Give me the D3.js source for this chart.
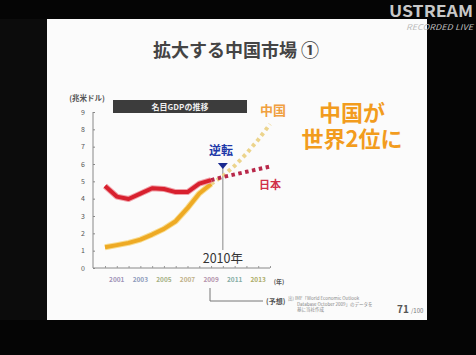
<!DOCTYPE html>
<html><head><meta charset="utf-8">
<script src="https://cdn.jsdelivr.net/npm/d3@7"></script>
<style>
html,body{margin:0;padding:0;background:#050505;}
svg{display:block;}
text{font-family:"Noto Sans CJK JP","Noto Sans",sans-serif;}
</style></head><body>
<svg id="c" width="476" height="355"></svg>
<script>
const years = [2000,2001,2002,2003,2004,2005,2006,2007,2008,2009];
const japan = [4.73,4.12,3.98,4.29,4.60,4.56,4.38,4.38,4.87,5.07];
const china = [1.20,1.32,1.45,1.64,1.93,2.26,2.70,3.45,4.30,4.85];
const fcYears = [2009,2010,2011,2012,2013,2014];
const japanFc = [5.07,5.25,5.40,5.55,5.70,5.85];
const chinaFc = [4.85,5.30,5.90,6.60,7.40,8.30];
const yTicks = [0,1,2,3,4,5,6,7,8,9];
const xLabels = [2001,2003,2005,2007,2009,2011,2013];
const xLabelColors = ["#a094b8","#8e9cbc","#a4b084","#c0b088","#b494ac","#84aca4","#acac68"];

const svg = d3.select("#c");
// slide
svg.append("rect").attr("x",0).attr("y",19).attr("width",47).attr("height",301).attr("fill","#0c0c0c");
svg.append("rect").attr("x",47).attr("y",19).attr("width",380).attr("height",301).attr("fill","#fbfbfb");

// logo
svg.append("text").attr("x",473).attr("y",17).attr("text-anchor","end")
  .attr("font-family","Liberation Sans Narrow, Liberation Sans, sans-serif").attr("font-weight","bold")
  .attr("font-size",16).attr("fill","#c8c8c8").attr("textLength",84).attr("lengthAdjust","spacingAndGlyphs").text("USTREAM");
svg.append("text").attr("x",473).attr("y",30).attr("text-anchor","end")
  .attr("font-family","Liberation Sans, sans-serif").attr("font-style","italic")
  .attr("font-size",8).attr("fill","#bbbbbb").attr("textLength",67).attr("lengthAdjust","spacingAndGlyphs").text("RECORDED LIVE");

// title
svg.append("text").attr("x",236).attr("y",57).attr("text-anchor","middle")
  .attr("font-size",18).attr("font-weight","bold").attr("fill","#444").text("拡大する中国市場 ①");

const x = d3.scaleLinear().domain([2000,2014]).range([105,270]);
const y = d3.scaleLinear().domain([0,9]).range([268,112]);

// axes
const yAxis = d3.axisLeft(y).tickValues(yTicks).tickSize(2).tickPadding(6).tickFormat(d3.format("d"));
const gy = svg.append("g").attr("transform","translate(93,0)").call(yAxis);
gy.select(".domain").attr("stroke","#888").attr("d","M0,112V268");
gy.selectAll(".tick line").attr("stroke","#888").attr("x2",2);
gy.selectAll(".tick text").attr("font-size",7).attr("fill","#555").attr("font-family","Liberation Sans, sans-serif");

const xAxis = d3.axisBottom(x).tickValues(d3.range(2000,2015)).tickSize(-2).tickFormat("");
const gx = svg.append("g").attr("transform","translate(0,268)").call(xAxis);
gx.select(".domain").attr("stroke","#888").attr("d","M93,0H270");
gx.selectAll(".tick line").attr("stroke","#999");
svg.selectAll(".xl").data(xLabels).join("text").attr("class","xl")
  .attr("x",d=>x(d)).attr("y",282).attr("text-anchor","middle")
  .attr("font-size",6.5).attr("font-family","Liberation Sans, sans-serif").attr("font-weight","bold")
  .attr("fill",(d,i)=>xLabelColors[i]).text(d=>d);
svg.append("text").attr("x",279).attr("y",284).attr("text-anchor","middle").attr("font-size",6).attr("font-weight","bold").attr("fill","#555").text("(年)");

svg.append("text").attr("x",87).attr("y",101).attr("text-anchor","middle").attr("font-size",7.5).attr("font-weight","bold").attr("fill","#555").text("(兆米ドル)");

// box
svg.append("rect").attr("x",113).attr("y",100).attr("width",134).attr("height",13).attr("fill","#3c3c3c");
svg.append("text").attr("x",180).attr("y",109.5).attr("text-anchor","middle").attr("font-size",8).attr("font-weight","bold").attr("fill","#eee").text("名目GDPの推移");

// vertical 2010 line
svg.append("line").attr("x1",x(2010)).attr("x2",x(2010)).attr("y1",168).attr("y2",250).attr("stroke","#888").attr("stroke-width",1);

const line = d3.line().x(d=>x(d[0])).y(d=>y(d[1]));
const jp = years.map((d,i)=>[d,japan[i]]);
const cn = years.map((d,i)=>[d,china[i]]);
const jpF = fcYears.map((d,i)=>[d,japanFc[i]]);
const cnF = fcYears.map((d,i)=>[d,chinaFc[i]]);

// forecast dotted
svg.append("path").attr("d",line(cnF)).attr("fill","none").attr("stroke","#ecd48c").attr("stroke-width",4).attr("stroke-dasharray","3.5,3.5");
svg.append("path").attr("d",line(jpF)).attr("fill","none").attr("stroke","#b8284a").attr("stroke-width",4).attr("stroke-dasharray","3.5,3.5");

// solid
svg.append("path").attr("d",line(cn)).attr("fill","none").attr("stroke","#f8dc90").attr("stroke-width",6).attr("stroke-linejoin","round");
svg.append("path").attr("d",line(cn)).attr("fill","none").attr("stroke","#eeaa24").attr("stroke-width",4).attr("stroke-linejoin","round");
svg.append("path").attr("d",line(jp)).attr("fill","none").attr("stroke","#f0a0a8").attr("stroke-width",6).attr("stroke-linejoin","round");
svg.append("path").attr("d",line(jp)).attr("fill","none").attr("stroke","#d8202e").attr("stroke-width",4).attr("stroke-linejoin","round");

// labels
svg.append("text").attr("x",273).attr("y",115).attr("text-anchor","middle").attr("font-size",13).attr("font-weight","bold").attr("fill","#f0a040").text("中国");
svg.append("text").attr("x",270).attr("y",189).attr("text-anchor","middle").attr("font-size",11).attr("font-weight","bold").attr("fill","#d03048").text("日本");
svg.append("text").attr("x",221).attr("y",155).attr("text-anchor","middle").attr("font-size",12).attr("font-weight","bold").attr("fill","#2038a8").text("逆転");
svg.append("path").attr("d",`M${x(2010)-5},163L${x(2010)+5},163L${x(2010)},169Z`).attr("fill","#1a2a90");
svg.append("text").attr("x",x(2010)).attr("y",263).attr("text-anchor","middle").attr("font-size",12.5).attr("fill","#333").text("2010年");

svg.append("text").attr("x",352).attr("y",121).attr("text-anchor","middle").attr("font-size",22).attr("font-weight","bold").attr("fill","#f29c1e").text("中国が");
svg.append("text").attr("x",352).attr("y",147).attr("text-anchor","middle").attr("font-size",22).attr("font-weight","bold").attr("fill","#f29c1e").text("世界2位に");

// bottom bracket
svg.append("path").attr("d","M210,288V301H263").attr("fill","none").attr("stroke","#777").attr("stroke-width",1);
svg.append("text").attr("x",266).attr("y",303.5).attr("font-size",7).attr("font-weight","bold").attr("fill","#555").text("(予想)");
svg.append("text").attr("x",288).attr("y",300).attr("font-size",4.5).attr("fill","#888").text("出) IMF「World Economic Outlook");
svg.append("text").attr("x",297).attr("y",305.5).attr("font-size",4.5).attr("fill","#888").text("Database October 2009」のデータを");
svg.append("text").attr("x",297).attr("y",311).attr("font-size",4.5).attr("fill","#888").text("基に当社作成");
svg.append("text").attr("x",397).attr("y",313).attr("font-size",10).attr("font-weight","bold").attr("fill","#555").attr("font-family","Liberation Sans, sans-serif").text("71");
svg.append("text").attr("x",411).attr("y",313).attr("font-size",6).attr("fill","#777").attr("font-family","Liberation Sans, sans-serif").text("/100");
</script></body></html>
